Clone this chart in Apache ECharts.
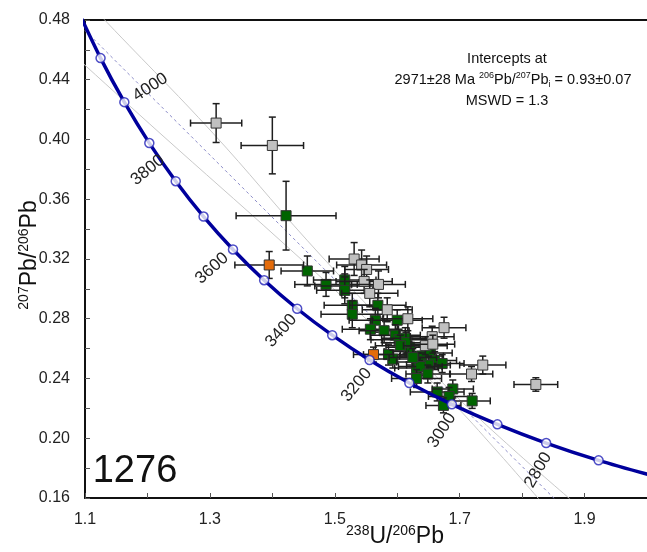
<!DOCTYPE html>
<html>
<head>
<meta charset="utf-8">
<script src="https://cdn.jsdelivr.net/npm/echarts@6/dist/echarts.min.js"></script>
<style>
html,body{margin:0;padding:0;background:#fff;}
#chart{width:647px;height:552px;}
</style>
</head>
<body>
<div id="chart"></div>
<script>
// ---------------- DATA ----------------
const xTickLabels = ['1.1', '1.3', '1.5', '1.7', '1.9'];
const yTickLabels = ['0.16', '0.20', '0.24', '0.28', '0.32', '0.36', '0.40', '0.44', '0.48'];

// Concordia (Ma, 238U/206Pb, 207Pb/206Pb)
const concAge = [4200, 4100, 4000, 3900, 3800, 3700, 3600, 3500, 3400, 3300, 3200, 3100, 3000, 2900, 2800, 2700, 2600];
const concX = [1.0888, 1.1249, 1.1630, 1.2030, 1.2453, 1.2899, 1.3370, 1.3869, 1.4398, 1.4959, 1.5557, 1.6194, 1.6875, 1.7604, 1.8385, 1.9225, 2.0136];
const concY = [0.4862, 0.4545, 0.4250, 0.3976, 0.3721, 0.3484, 0.3264, 0.3058, 0.2867, 0.2690, 0.2524, 0.2370, 0.2227, 0.2093, 0.1968, 0.1852, 0.1744];
const circleAges = [4100, 4000, 3900, 3800, 3700, 3600, 3500, 3400, 3300, 3200, 3100, 3000, 2900, 2800, 2700];
const labelAges = [4000, 3800, 3600, 3400, 3200, 3000, 2800];

// Discordia (regression) line and its error envelope
const discordX = [1.1, 1.9];
const discordY = [0.4730, 0.1394];
const envUpperX = [1.1176, 1.1352, 1.3050, 1.4555, 1.5901, 1.7006, 1.7870, 1.8879];
const envUpperY = [0.4865, 0.4784, 0.4042, 0.3326, 0.2724, 0.2256, 0.1921, 0.1553];
const envLowerX = [1.0824, 1.1000, 1.2201, 1.4123, 1.5692, 1.6846, 1.7582, 1.8351];
const envLowerY = [0.4563, 0.4497, 0.4042, 0.3326, 0.2724, 0.2256, 0.1921, 0.1553];

// Analyses: [238U/206Pb, 207Pb/206Pb, err x, err y]
const greenPts = [
  [1.422, 0.349, 0.080, 0.023], [1.456, 0.312, 0.042, 0.010], [1.486, 0.303, 0.050, 0.008],
  [1.516, 0.306, 0.050, 0.009], [1.516, 0.302, 0.048, 0.008], [1.516, 0.299, 0.045, 0.009],
  [1.528, 0.289, 0.045, 0.008], [1.528, 0.283, 0.050, 0.009], [1.569, 0.289, 0.045, 0.008],
  [1.565, 0.279, 0.042, 0.008], [1.600, 0.279, 0.040, 0.007], [1.557, 0.273, 0.045, 0.007],
  [1.579, 0.272, 0.040, 0.008], [1.597, 0.269, 0.040, 0.007], [1.603, 0.266, 0.045, 0.007],
  [1.613, 0.267, 0.038, 0.007], [1.619, 0.258, 0.040, 0.007], [1.620, 0.261, 0.038, 0.006],
  [1.586, 0.256, 0.040, 0.007], [1.593, 0.253, 0.040, 0.006], [1.639, 0.255, 0.035, 0.006],
  [1.653, 0.257, 0.035, 0.006], [1.634, 0.251, 0.035, 0.006], [1.660, 0.252, 0.035, 0.006],
  [1.672, 0.250, 0.035, 0.006], [1.650, 0.249, 0.035, 0.006], [1.631, 0.247, 0.035, 0.006],
  [1.637, 0.248, 0.035, 0.006], [1.649, 0.243, 0.035, 0.006], [1.631, 0.240, 0.040, 0.006],
  [1.664, 0.231, 0.043, 0.006], [1.689, 0.233, 0.033, 0.006], [1.683, 0.228, 0.033, 0.006],
  [1.720, 0.225, 0.029, 0.005], [1.674, 0.222, 0.028, 0.005], [1.614, 0.264, 0.038, 0.007],
  [1.605, 0.262, 0.040, 0.007], [1.625, 0.254, 0.038, 0.006]
];
const greyPts = [
  [1.310, 0.411, 0.041, 0.013], [1.400, 0.396, 0.050, 0.019], [1.531, 0.320, 0.040, 0.011],
  [1.543, 0.316, 0.040, 0.010], [1.551, 0.313, 0.035, 0.009], [1.547, 0.305, 0.045, 0.008],
  [1.570, 0.303, 0.043, 0.009], [1.556, 0.297, 0.045, 0.009], [1.584, 0.286, 0.040, 0.008],
  [1.617, 0.280, 0.040, 0.008], [1.675, 0.274, 0.035, 0.007], [1.656, 0.268, 0.035, 0.007],
  [1.645, 0.262, 0.035, 0.006], [1.657, 0.263, 0.035, 0.006], [1.737, 0.249, 0.037, 0.006],
  [1.719, 0.243, 0.034, 0.005], [1.822, 0.236, 0.035, 0.0045]
];
const orangePts = [
  [1.395, 0.316, 0.055, 0.009], [1.562, 0.256, 0.032, 0.005]
];

// ---------------- STYLE ----------------
const FONT = '"Liberation Sans", Arial, sans-serif';
// label placement relative to its concordia marker: [dx px, dy px, rotation deg]
const labelPlacement = {
  4000: [26, -15, 33], 3800: [-28, -11, 39], 3600: [-21, 19, 42], 3400: [-16, 22, 48],
  3200: [-13, 25, 51], 3000: [-10, 26, 57], 2800: [-8, 27, 60]
};

const zip = (a, b) => a.map((v, i) => [v, b[i]]);
const concAt = age => { const i = concAge.indexOf(age); return [concX[i], concY[i], age]; };

function errorBarSeries(pts, fill, z) {
  return {
    type: 'custom',
    z: z,
    dimensions: ['x', 'y', 'ex', 'ey'],
    encode: { x: 0, y: 1 },
    data: pts,
    renderItem: function (params, api) {
      const x = api.value(0), y = api.value(1), ex = api.value(2), ey = api.value(3);
      const c = api.coord([x, y]);
      const l = api.coord([x - ex, y]);
      const r = api.coord([x + ex, y]);
      const t = api.coord([x, y + ey]);
      const b = api.coord([x, y - ey]);
      const cap = 3.5, ls = { stroke: '#1e1e1e', lineWidth: 1.5 };
      const s = 10;
      return {
        type: 'group',
        children: [
          { type: 'line', shape: { x1: l[0], y1: l[1], x2: r[0], y2: r[1] }, style: ls },
          { type: 'line', shape: { x1: t[0], y1: t[1], x2: b[0], y2: b[1] }, style: ls },
          { type: 'line', shape: { x1: l[0], y1: l[1] - cap, x2: l[0], y2: l[1] + cap }, style: ls },
          { type: 'line', shape: { x1: r[0], y1: r[1] - cap, x2: r[0], y2: r[1] + cap }, style: ls },
          { type: 'line', shape: { x1: t[0] - cap, y1: t[1], x2: t[0] + cap, y2: t[1] }, style: ls },
          { type: 'line', shape: { x1: b[0] - cap, y1: b[1], x2: b[0] + cap, y2: b[1] }, style: ls },
          { type: 'rect', shape: { x: c[0] - s / 2, y: c[1] - s / 2, width: s, height: s },
            style: { fill: fill, stroke: '#333', lineWidth: 1 } }
        ]
      };
    }
  };
}

const chart = echarts.init(document.getElementById('chart'), null, { renderer: 'canvas' });

const option = {
  animation: false,
  backgroundColor: '#fff',
  grid: { left: 85, right: 0, top: 20, bottom: 54 },
  xAxis: [{
    type: 'value', min: 1.1, max: 2.0, interval: 0.1,
    axisLine: { show: true, onZero: false, lineStyle: { color: '#111', width: 2 } },
    axisTick: { show: true, inside: true, length: 5, lineStyle: { color: '#555', width: 1 } },
    axisLabel: {
      margin: 14, fontSize: 16, color: '#222', fontFamily: FONT,
      showMaxLabel: false,
      formatter: v => { const s = v.toFixed(1); return xTickLabels.includes(s) ? s : ''; }
    },
    splitLine: { show: false }
  }, {
    type: 'value', min: 1.1, max: 2.0, position: 'top',
    axisLine: { show: true, onZero: false, lineStyle: { color: '#111', width: 2 } },
    axisTick: { show: false }, axisLabel: { show: false }, splitLine: { show: false }
  }],
  yAxis: {
    type: 'value', min: 0.16, max: 0.48, interval: 0.02,
    axisLine: { show: true, onZero: false, lineStyle: { color: '#111', width: 2 } },
    axisTick: { show: true, inside: true, length: 5, lineStyle: { color: '#555', width: 1 } },
    axisLabel: {
      margin: 15, fontSize: 16, color: '#222', fontFamily: FONT,
      formatter: v => { const s = v.toFixed(2); return yTickLabels.includes(s) ? s : ''; }
    },
    splitLine: { show: false }
  },
  series: [
    { type: 'line', data: zip(envUpperX, envUpperY), smooth: 0.4, showSymbol: false, z: 1,
      lineStyle: { color: '#c9c9c9', width: 1 } },
    { type: 'line', data: zip(envLowerX, envLowerY), smooth: 0.4, showSymbol: false, z: 1,
      lineStyle: { color: '#c9c9c9', width: 1 } },
    { type: 'line', data: zip(discordX, discordY), showSymbol: false, z: 1,
      lineStyle: { color: '#8c8cc8', width: 1, type: [3, 3] } },
    errorBarSeries(greenPts, '#006400', 3),
    errorBarSeries(greyPts, '#c0c0c0', 3),
    errorBarSeries(orangePts, '#e46c0a', 3),
    { type: 'line', data: zip(concX, concY), smooth: 0.3, showSymbol: false, z: 4,
      lineStyle: { color: '#00009c', width: 3.5 } },
    { type: 'scatter', data: circleAges.map(concAt), symbol: 'circle', symbolSize: 9, z: 5,
      itemStyle: { color: '#ffffff', borderColor: '#2020b8', borderWidth: 1.5 } },
    {
      type: 'custom', z: 6, data: labelAges.map(concAt),
      dimensions: ['x', 'y', 'age'], encode: { x: 0, y: 1 },
      renderItem: function (params, api) {
        const p = api.coord([api.value(0), api.value(1)]);
        const age = api.value(2);
        const pl = labelPlacement[age];
        return {
          type: 'text', x: p[0] + pl[0], y: p[1] + pl[1], rotation: pl[2] * Math.PI / 180,
          style: { text: String(age), fontSize: 17, fontFamily: FONT, fill: '#222',
                   align: 'center', verticalAlign: 'middle', textAlign: 'center', textVerticalAlign: 'middle' }
        };
      }
    }
  ],
  graphic: [
    { type: 'text', x: 507, y: 59, z: 10,
      style: { text: 'Intercepts at', fontSize: 14.5, fontFamily: FONT, fill: '#111',
               align: 'center', verticalAlign: 'middle', textAlign: 'center', textVerticalAlign: 'middle' } },
    { type: 'text', x: 513, y: 80, z: 10,
      style: { text: '2971±28 Ma {sup|206}Pb/{sup|207}Pb{sub|i} = 0.93±0.07', fontSize: 14.5, fontFamily: FONT,
               fill: '#111', lineHeight: 18,
               align: 'center', verticalAlign: 'middle', textAlign: 'center', textVerticalAlign: 'middle',
               rich: { sup: { fontSize: 9, fontFamily: FONT, fill: '#111', verticalAlign: 'top', lineHeight: 12 },
                       sub: { fontSize: 9, fontFamily: FONT, fill: '#111', verticalAlign: 'bottom', lineHeight: 10 } } } },
    { type: 'text', x: 507, y: 101, z: 10,
      style: { text: 'MSWD = 1.3', fontSize: 14.5, fontFamily: FONT, fill: '#111',
               align: 'center', verticalAlign: 'middle', textAlign: 'center', textVerticalAlign: 'middle' } },
    { type: 'text', x: 135, y: 472, z: 10,
      style: { text: '1276', fontSize: 38, fontFamily: FONT, fill: '#111',
               align: 'center', verticalAlign: 'middle', textAlign: 'center', textVerticalAlign: 'middle' } },
    { type: 'text', x: 395, y: 537, z: 10,
      style: { text: '{sup|238}U/{sup|206}Pb', fontSize: 23, fontFamily: FONT, fill: '#111', lineHeight: 26,
               align: 'center', verticalAlign: 'middle', textAlign: 'center', textVerticalAlign: 'middle',
               rich: { sup: { fontSize: 14, fontFamily: FONT, fill: '#111', verticalAlign: 'top', lineHeight: 16 } } } },
    { type: 'text', x: 30, y: 255, z: 10, rotation: Math.PI / 2,
      style: { text: '{sup|207}Pb/{sup|206}Pb', fontSize: 23, fontFamily: FONT, fill: '#111', lineHeight: 26,
               align: 'center', verticalAlign: 'middle', textAlign: 'center', textVerticalAlign: 'middle',
               rich: { sup: { fontSize: 14, fontFamily: FONT, fill: '#111', verticalAlign: 'top', lineHeight: 16 } } } }
  ]
};
chart.setOption(option);
</script>
</body>
</html>
